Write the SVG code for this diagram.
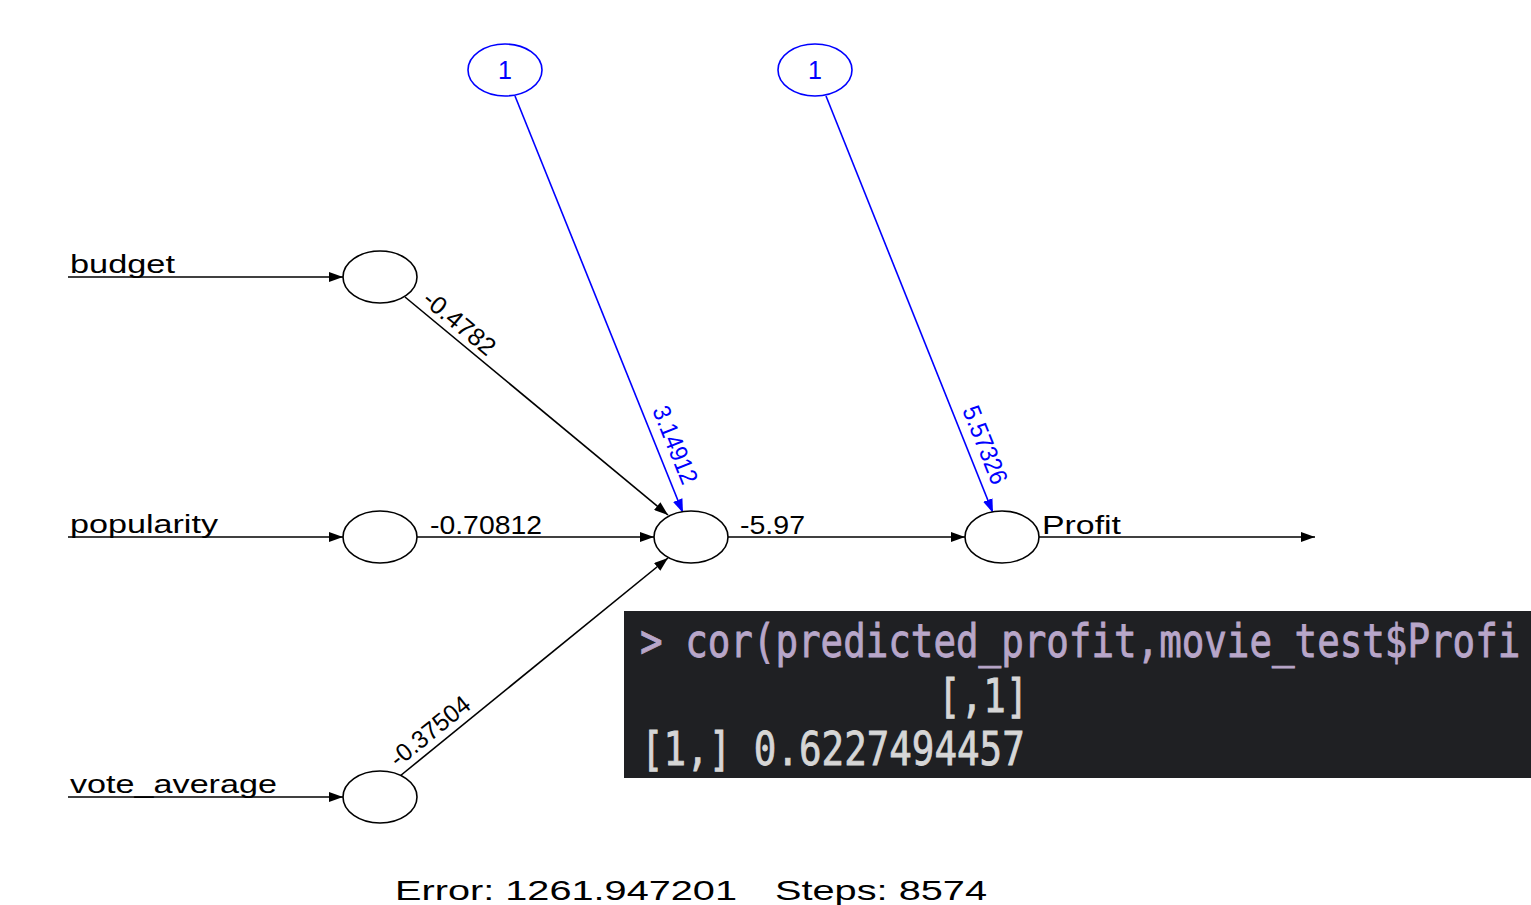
<svg xmlns="http://www.w3.org/2000/svg" width="1531" height="905" viewBox="0 0 1531 905">
<style>
.lbl{font-family:"Liberation Sans",Arial,sans-serif;font-size:25px;fill:#000}
.blbl{font-family:"Liberation Sans",Arial,sans-serif;font-size:25px;fill:#0000ff}
.node{fill:#fff;stroke:#000;stroke-width:1.6}
.bias{fill:#fff;stroke:#0000ff;stroke-width:1.6}
.e{stroke:#000;stroke-width:1.6;fill:none;marker-end:url(#ah)}
.eb{stroke:#0000ff;stroke-width:1.6;fill:none;marker-end:url(#ahb)}
.code{font-family:"DejaVu Sans Mono","Liberation Mono",monospace;font-size:37.5px;stroke-width:0.7}
</style>
<defs>
<marker id="ah" markerUnits="userSpaceOnUse" markerWidth="14" markerHeight="10" refX="14" refY="5" orient="auto"><path d="M0,0 L14,5 L0,10 z" fill="#000"/></marker>
<marker id="ahb" markerUnits="userSpaceOnUse" markerWidth="14" markerHeight="10" refX="14" refY="5" orient="auto"><path d="M0,0 L14,5 L0,10 z" fill="#0000ff"/></marker>
</defs>
<rect width="1531" height="905" fill="#fff"/>
<g id="connectors">
<line class="e" x1="68" y1="277" x2="343" y2="277"/>
<line class="e" x1="68" y1="537" x2="343" y2="537"/>
<line class="e" x1="68" y1="797" x2="343" y2="797"/>
<line class="e" x1="405" y1="297" x2="668" y2="515"/>
<line class="e" x1="417" y1="537" x2="654" y2="537"/>
<line class="e" x1="400" y1="776" x2="668" y2="558"/>
<line class="eb" x1="515" y1="96" x2="683" y2="513"/>
<line class="eb" x1="826" y1="96" x2="993" y2="513"/>
<line class="e" x1="728" y1="537" x2="965" y2="537"/>
<line class="e" x1="1039" y1="537" x2="1315" y2="537"/>
<text class="lbl" x="70" y="273" textLength="105" lengthAdjust="spacingAndGlyphs">budget</text>
<text class="lbl" x="70" y="533" textLength="148" lengthAdjust="spacingAndGlyphs">popularity</text>
<text class="lbl" x="70" y="793" textLength="207" lengthAdjust="spacingAndGlyphs">vote_average</text>
<text class="lbl" transform="translate(421,302) rotate(39.7)" textLength="86" lengthAdjust="spacingAndGlyphs">-0.4782</text>
<text class="lbl" x="430" y="534" textLength="112" lengthAdjust="spacingAndGlyphs">-0.70812</text>
<text class="lbl" transform="translate(398,768) rotate(-39)" textLength="96" lengthAdjust="spacingAndGlyphs">-0.37504</text>
<text class="blbl" transform="translate(652,410) rotate(68.1)" textLength="82" lengthAdjust="spacingAndGlyphs">3.14912</text>
<text class="blbl" transform="translate(962,410) rotate(68.2)" textLength="82" lengthAdjust="spacingAndGlyphs">5.57326</text>
<text class="lbl" x="740" y="534" textLength="65" lengthAdjust="spacingAndGlyphs">-5.97</text>
<text class="lbl" x="1042" y="534" textLength="79" lengthAdjust="spacingAndGlyphs">Profit</text>
</g>
<g id="bias1"><ellipse class="bias" cx="505" cy="70" rx="37" ry="26"/><text class="blbl" x="505" y="79" text-anchor="middle">1</text></g>
<g id="bias2"><ellipse class="bias" cx="815" cy="70" rx="37" ry="26"/><text class="blbl" x="815" y="79" text-anchor="middle">1</text></g>
<g id="in-budget"><ellipse class="node" cx="380" cy="277" rx="37" ry="26"/></g>
<g id="in-popularity"><ellipse class="node" cx="380" cy="537" rx="37" ry="26"/></g>
<g id="in-vote"><ellipse class="node" cx="380" cy="797" rx="37" ry="26"/></g>
<g id="hidden"><ellipse class="node" cx="691" cy="537" rx="37" ry="26"/></g>
<g id="output"><ellipse class="node" cx="1002" cy="537" rx="37" ry="26"/></g>
<g id="console">
<rect x="624" y="611" width="907" height="167" fill="#1f2023"/>
<text class="code" transform="translate(640,657) scale(1,1.25)" fill="#b8a6c9" stroke="#b8a6c9">&gt; cor(predicted_profit,movie_test$Profi</text>
<text class="code" transform="translate(938,712) scale(1,1.25)" fill="#d6d6d6" stroke="#d6d6d6">[,1]</text>
<text class="code" transform="translate(641,765) scale(1,1.25)" fill="#d6d6d6" stroke="#d6d6d6">[1,] 0.6227494457</text>
</g>
<g id="footer">
<text class="lbl" style="font-size:28px" x="395" y="900" textLength="342" lengthAdjust="spacingAndGlyphs">Error: 1261.947201</text>
<text class="lbl" style="font-size:28px" x="775" y="900" textLength="212" lengthAdjust="spacingAndGlyphs">Steps: 8574</text>
</g>
</svg>
